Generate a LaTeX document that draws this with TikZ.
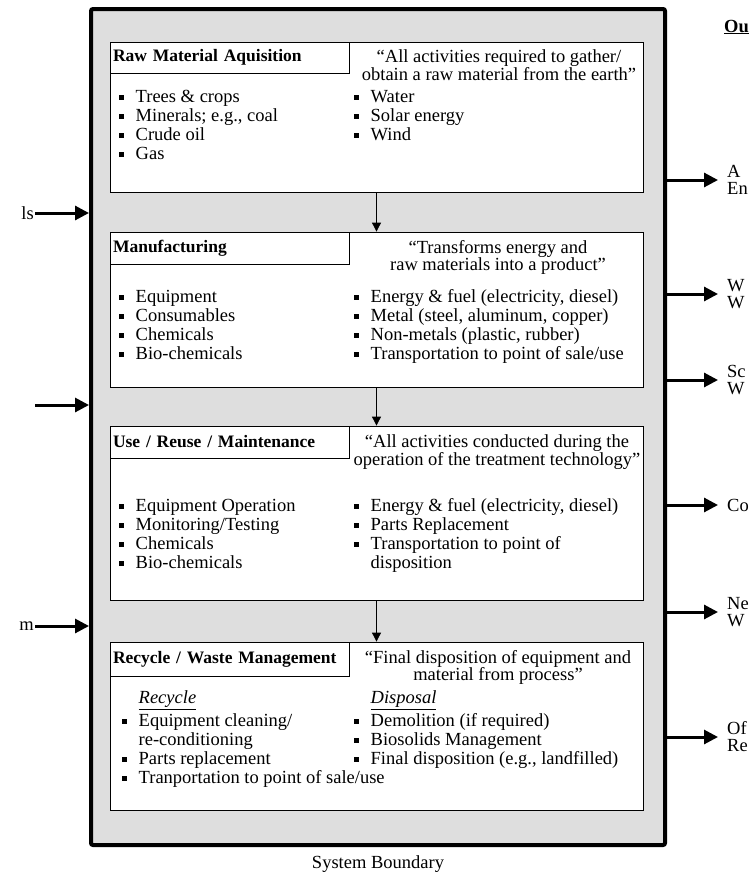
\documentclass[tikz,border=0pt]{standalone}
\usepackage{fontspec}
\setmainfont{Liberation Serif}
\usetikzlibrary{arrows.meta}
\newcommand{\sqb}{\rule[0.3ex]{4.5pt}{4.5pt}}

\begin{document}
\begin{tikzpicture}[x=1pt,y=-1pt,
  font=\fontsize{18.5}{19}\selectfont,
  stagebox/.style={draw,fill=white,line width=0.8pt,minimum width=533pt,inner sep=0pt},
  titlecell/.style={draw,anchor=north west,line width=0.8pt,text width=233pt,inner xsep=3pt,align=left,font=\fontsize{17.5}{19}\selectfont\bfseries},
  quotetxt/.style={anchor=north,align=center,inner sep=0pt,font=\fontsize{18.5}{17}\selectfont},
  itemlist/.style={anchor=north west,inner sep=0pt},
  flowarrow/.style={line width=0.8pt,-{Triangle[length=9pt,width=9pt]}},
  bigarrow/.style={line width=3pt,-{Triangle[length=14pt,width=14pt]}},
  lbl/.style={anchor=west,align=left,inner sep=0pt,font=\fontsize{18.5}{17}\selectfont}]
\useasboundingbox (0,0) rectangle (754,873);

\node[draw,line width=4pt,fill=black!13,rounded corners=2pt,minimum width=574pt,minimum height=836pt] (sysb) at (378,427) {};
\node (sbl) at (378,864) {System Boundary};

\node[stagebox,minimum height=150pt] (raw) at (376.5,117) {};
\node[titlecell,minimum height=31pt] (rawt) at (raw.north west) {Raw Material Aquisition};
\node[quotetxt] (rawq) at (499,49) {``All activities required to gather/\\obtain a raw material from the earth''};
\node[itemlist] (rawl) at (119,89) {\begin{tabular}{@{}l@{\hspace{12pt}}l@{}}
\sqb & Trees \& crops\\
\sqb & Minerals; e.g., coal\\
\sqb & Crude oil\\
\sqb & Gas
\end{tabular}};
\node[itemlist] (rawr) at (354,89) {\begin{tabular}{@{}l@{\hspace{12pt}}l@{}}
\sqb & Water\\
\sqb & Solar energy\\
\sqb & Wind
\end{tabular}};

\node[stagebox,minimum height=155pt] (mfg) at (376.5,309.5) {};
\node[titlecell,minimum height=32pt] (mfgt) at (mfg.north west) {Manufacturing};
\node[quotetxt] (mfgq) at (498,240) {``Transforms energy and\\raw materials into a product''};
\node[itemlist] (mfgl) at (119,289) {\begin{tabular}{@{}l@{\hspace{12pt}}l@{}}
\sqb & Equipment\\
\sqb & Consumables\\
\sqb & Chemicals\\
\sqb & Bio-chemicals
\end{tabular}};
\node[itemlist] (mfgr) at (354,289) {\begin{tabular}{@{}l@{\hspace{12pt}}l@{}}
\sqb & Energy \& fuel (electricity, diesel)\\
\sqb & Metal (steel, aluminum, copper)\\
\sqb & Non-metals (plastic, rubber)\\
\sqb & Transportation to point of sale/use
\end{tabular}};

\node[stagebox,minimum height=174pt] (use) at (376.5,513) {};
\node[titlecell,minimum height=32pt] (uset) at (use.north west) {Use / Reuse / Maintenance};
\node[quotetxt] (useq) at (497,434) {``All activities conducted during the\\operation of the treatment technology''};
\node[itemlist] (usel) at (119,498) {\begin{tabular}{@{}l@{\hspace{12pt}}l@{}}
\sqb & Equipment Operation\\
\sqb & Monitoring/Testing\\
\sqb & Chemicals\\
\sqb & Bio-chemicals
\end{tabular}};
\node[itemlist] (user) at (354,498) {\begin{tabular}{@{}l@{\hspace{12pt}}l@{}}
\sqb & Energy \& fuel (electricity, diesel)\\
\sqb & Parts Replacement\\
\sqb & Transportation to point of\\
 & disposition
\end{tabular}};

\node[stagebox,minimum height=168pt] (rec) at (376.5,726) {};
\node[titlecell,minimum height=34pt] (rect) at (rec.north west) {Recycle / Waste Management};
\node[quotetxt] (recq) at (498,650) {``Final disposition of equipment and\\material from process''};
\node[itemlist] (recl) at (122,690) {\begin{tabular}{@{}l@{\hspace{12pt}}l@{}}
 & \underline{\textit{Recycle}}\\[4pt]
\sqb & Equipment cleaning/\\
 & re-conditioning\\
\sqb & Parts replacement\\
\sqb & Tranportation to point of sale/use
\end{tabular}};
\node[itemlist] (recr) at (354,690) {\begin{tabular}{@{}l@{\hspace{12pt}}l@{}}
 & \underline{\textit{Disposal}}\\[4pt]
\sqb & Demolition (if required)\\
\sqb & Biosolids Management\\
\sqb & Final disposition (e.g., landfilled)
\end{tabular}};

\draw[flowarrow] (raw.south) -- (mfg.north);
\draw[flowarrow] (mfg.south) -- (use.north);
\draw[flowarrow] (use.south) -- (rec.north);

\coordinate (in1) at (35,213);
\coordinate (in2) at (35,405);
\coordinate (in3) at (35,626);
\draw[bigarrow] (in1) -- (in1 -| sysb.west);
\draw[bigarrow] (in2) -- (in2 -| sysb.west);
\draw[bigarrow] (in3) -- (in3 -| sysb.west);
\node[anchor=east,inner sep=1pt] (inl1) at (in1) {ls};
\node[anchor=east,inner sep=1pt] (inl3) at (in3) {m};

\node[anchor=west,inner sep=0pt] (outh) at (724,27) {\textbf{\underline{Ou}}};
\coordinate (out1) at (718,180);
\coordinate (out2) at (718,294);
\coordinate (out3) at (718,380);
\coordinate (out4) at (718,505);
\coordinate (out5) at (718,612);
\coordinate (out6) at (718,737);
\foreach \o in {1,...,6}
  \draw[bigarrow] (out\o -| sysb.east) -- (out\o);
\node[lbl] (outl1) at (727,180) {A\\En};
\node[lbl] (outl2) at (727,294) {W\\W};
\node[lbl] (outl3) at (727,380) {Sc\\W};
\node[lbl] (outl4) at (727,505) {Co};
\node[lbl] (outl5) at (727,612) {Ne\\W};
\node[lbl] (outl6) at (727,737) {Of\\Re};
\end{tikzpicture}
\end{document}
